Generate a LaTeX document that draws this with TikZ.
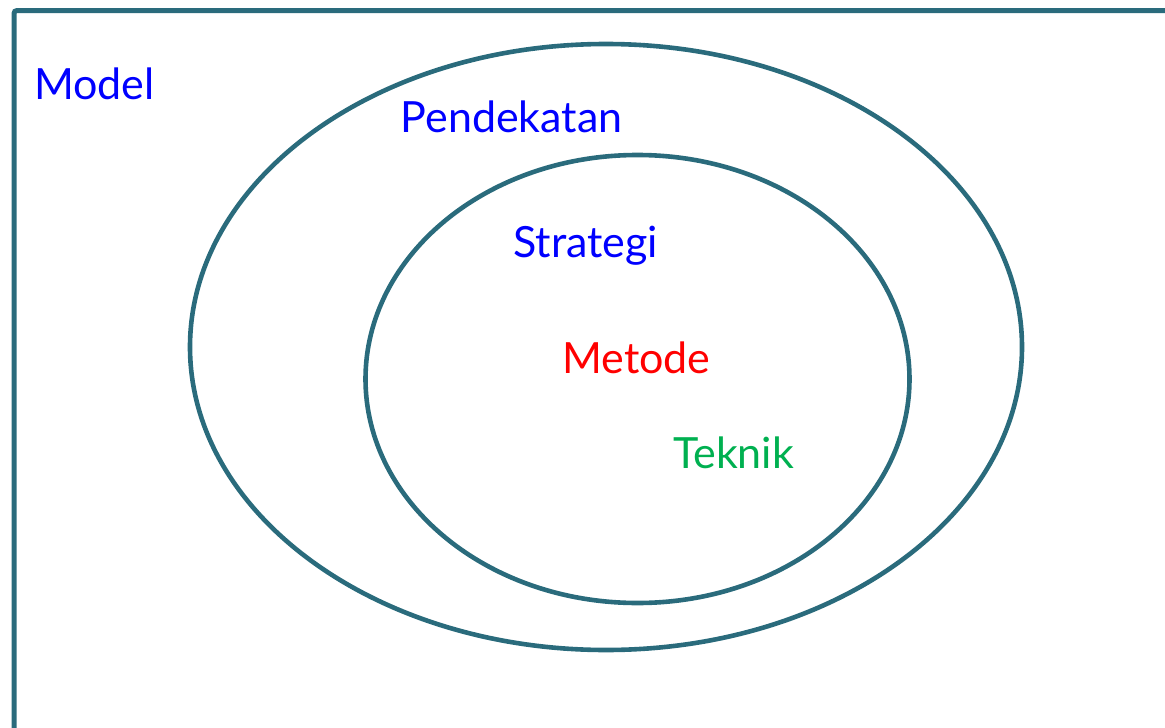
\documentclass[tikz,border=0pt]{standalone}
\usepackage{fontspec}
\setmainfont{Lato}
\definecolor{frame}{HTML}{2A6B7C}
\definecolor{tblue}{HTML}{0000FF}
\definecolor{tred}{HTML}{FF0000}
\definecolor{tgreen}{HTML}{00B050}
\begin{document}
\begin{tikzpicture}[x=1pt,y=-1pt,
  outline/.style={draw=frame,line width=4.6pt},
  lbl/.style={anchor=base west,inner sep=0pt,font=\fontsize{43}{47}\selectfont}]
\useasboundingbox (0,0) rectangle (1165,728);
\clip (0,0) rectangle (1165,728);
\draw[outline,line width=5pt,rounded corners=3pt] (14,10.5) rectangle (1200,760);
\draw[outline] (606,347) ellipse [x radius=416,y radius=303];
\draw[outline] (637.5,379) ellipse [x radius=272,y radius=224];
\node[lbl,text=tblue] (model) at (34,99) {Model};
\node[lbl,text=tblue] (pend) at (400.5,132) {Pendekatan};
\node[lbl,text=tblue] (strat) at (513,257) {Strategi};
\node[lbl,text=tred] (metode) at (562,373) {Metode};
\node[lbl,text=tgreen] (teknik) at (673,468) {Teknik};
\end{tikzpicture}
\end{document}
